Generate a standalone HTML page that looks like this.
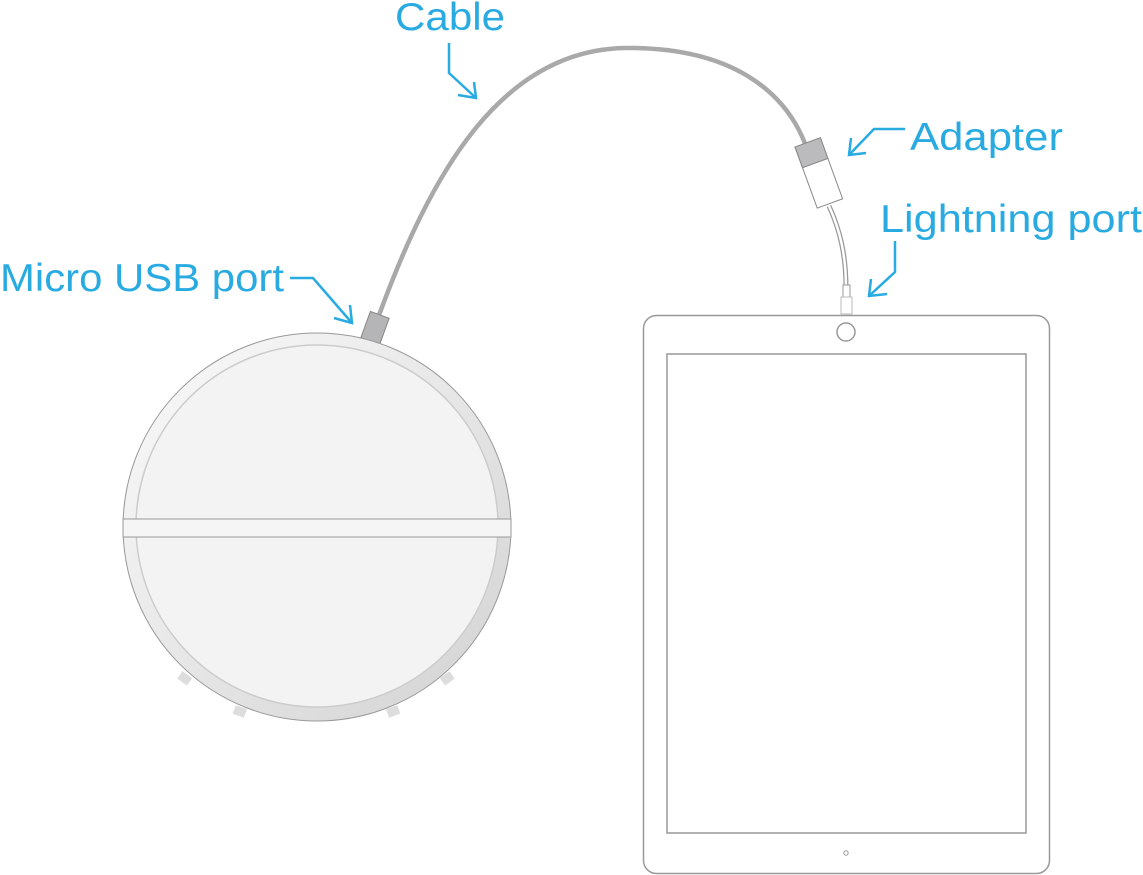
<!DOCTYPE html>
<html><head><meta charset="utf-8"><style>html,body{margin:0;padding:0;background:#fff;}svg{display:block}</style></head>
<body>
<svg width="1143" height="875" viewBox="0 0 1143 875" xmlns="http://www.w3.org/2000/svg">
<g font-family="Liberation Sans, sans-serif" font-size="39" fill="#29abe2">
<text x="395" y="30" textLength="110" lengthAdjust="spacingAndGlyphs">Cable</text>
<text x="910" y="150" textLength="153" lengthAdjust="spacingAndGlyphs">Adapter</text>
<text x="880" y="232" textLength="262" lengthAdjust="spacingAndGlyphs">Lightning port</text>
<text x="0" y="291" textLength="284" lengthAdjust="spacingAndGlyphs">Micro USB port</text>
</g>
<g fill="none" stroke="#29abe2" stroke-width="2.5">
<path d="M449,43 V73 L476,98"/><path d="M458,95 L476,98 L474,82"/>
<path d="M905,129 H874 L849,155"/><path d="M851,138 L849,155 L866,153"/>
<path d="M895,241 V272 L869,296"/><path d="M871,279 L869,296 L887,294"/>
<path d="M290,278 H313 L352,323"/><path d="M334,318 L352,323 L350,305"/>
</g>
<!-- cable -->
<path d="M378,318 C430,175 500,50 625,48 C730,47 785,90 806,146" fill="none" stroke="#a9a9aa" stroke-width="4.5"/>
<!-- thin adapter cable -->
<path d="M829,206 C840,230 846,255 846,288" fill="none" stroke="#999" stroke-width="5"/>
<path d="M829,206 C840,230 846,255 846,288" fill="none" stroke="#fff" stroke-width="2.5"/>
<rect x="843" y="285" width="7" height="12" fill="#fff" stroke="#999" stroke-width="1"/>
<rect x="841" y="297" width="11" height="17" fill="#fff" stroke="#bbb" stroke-width="1"/>
<!-- adapter -->
<g transform="translate(795,147) rotate(-20)">
<rect x="0" y="0" width="27" height="65" fill="#fff" stroke="#888" stroke-width="1"/>
<rect x="0" y="0" width="27" height="22" fill="#bbbbbd" stroke="#888" stroke-width="1"/>
</g>
<!-- robot -->
<g transform="translate(185,678) rotate(35)"><rect x="-6" y="-4" width="12" height="9" fill="#ddd"/></g>
<g transform="translate(240,711) rotate(20)"><rect x="-6" y="-4" width="12" height="9" fill="#ddd"/></g>
<g transform="translate(393,711) rotate(-20)"><rect x="-6" y="-4" width="12" height="9" fill="#ddd"/></g>
<g transform="translate(447,678) rotate(-35)"><rect x="-6" y="-4" width="12" height="9" fill="#ddd"/></g>
<defs><linearGradient id="rg" x1="0" y1="0" x2="1" y2="1"><stop offset="0" stop-color="#fbfbfb"/><stop offset="1" stop-color="#d2d2d3"/></linearGradient></defs>
<g transform="translate(375,328) rotate(20)"><rect x="-10" y="-14" width="20" height="28" fill="#b5b5b7" stroke="#888" stroke-width="1"/></g>
<circle cx="317" cy="527" r="194" fill="url(#rg)" stroke="#999" stroke-width="1"/>
<circle cx="317" cy="526" r="181" fill="#f3f3f3" stroke="#ccc" stroke-width="1.5"/>
<rect x="123" y="519" width="388" height="18" fill="#f5f5f5" stroke="#999" stroke-width="1"/>
<!-- ipad -->
<rect x="643.5" y="315.5" width="406" height="558" rx="13" fill="#fff" stroke="#999" stroke-width="1.5"/>
<rect x="667" y="354" width="359" height="479" fill="#fff" stroke="#999" stroke-width="1.5"/>
<circle cx="846" cy="332" r="9" fill="#fff" stroke="#999" stroke-width="1.5"/>
<circle cx="846" cy="853" r="2.2" fill="#fff" stroke="#999" stroke-width="1"/>
</svg>
</body></html>
